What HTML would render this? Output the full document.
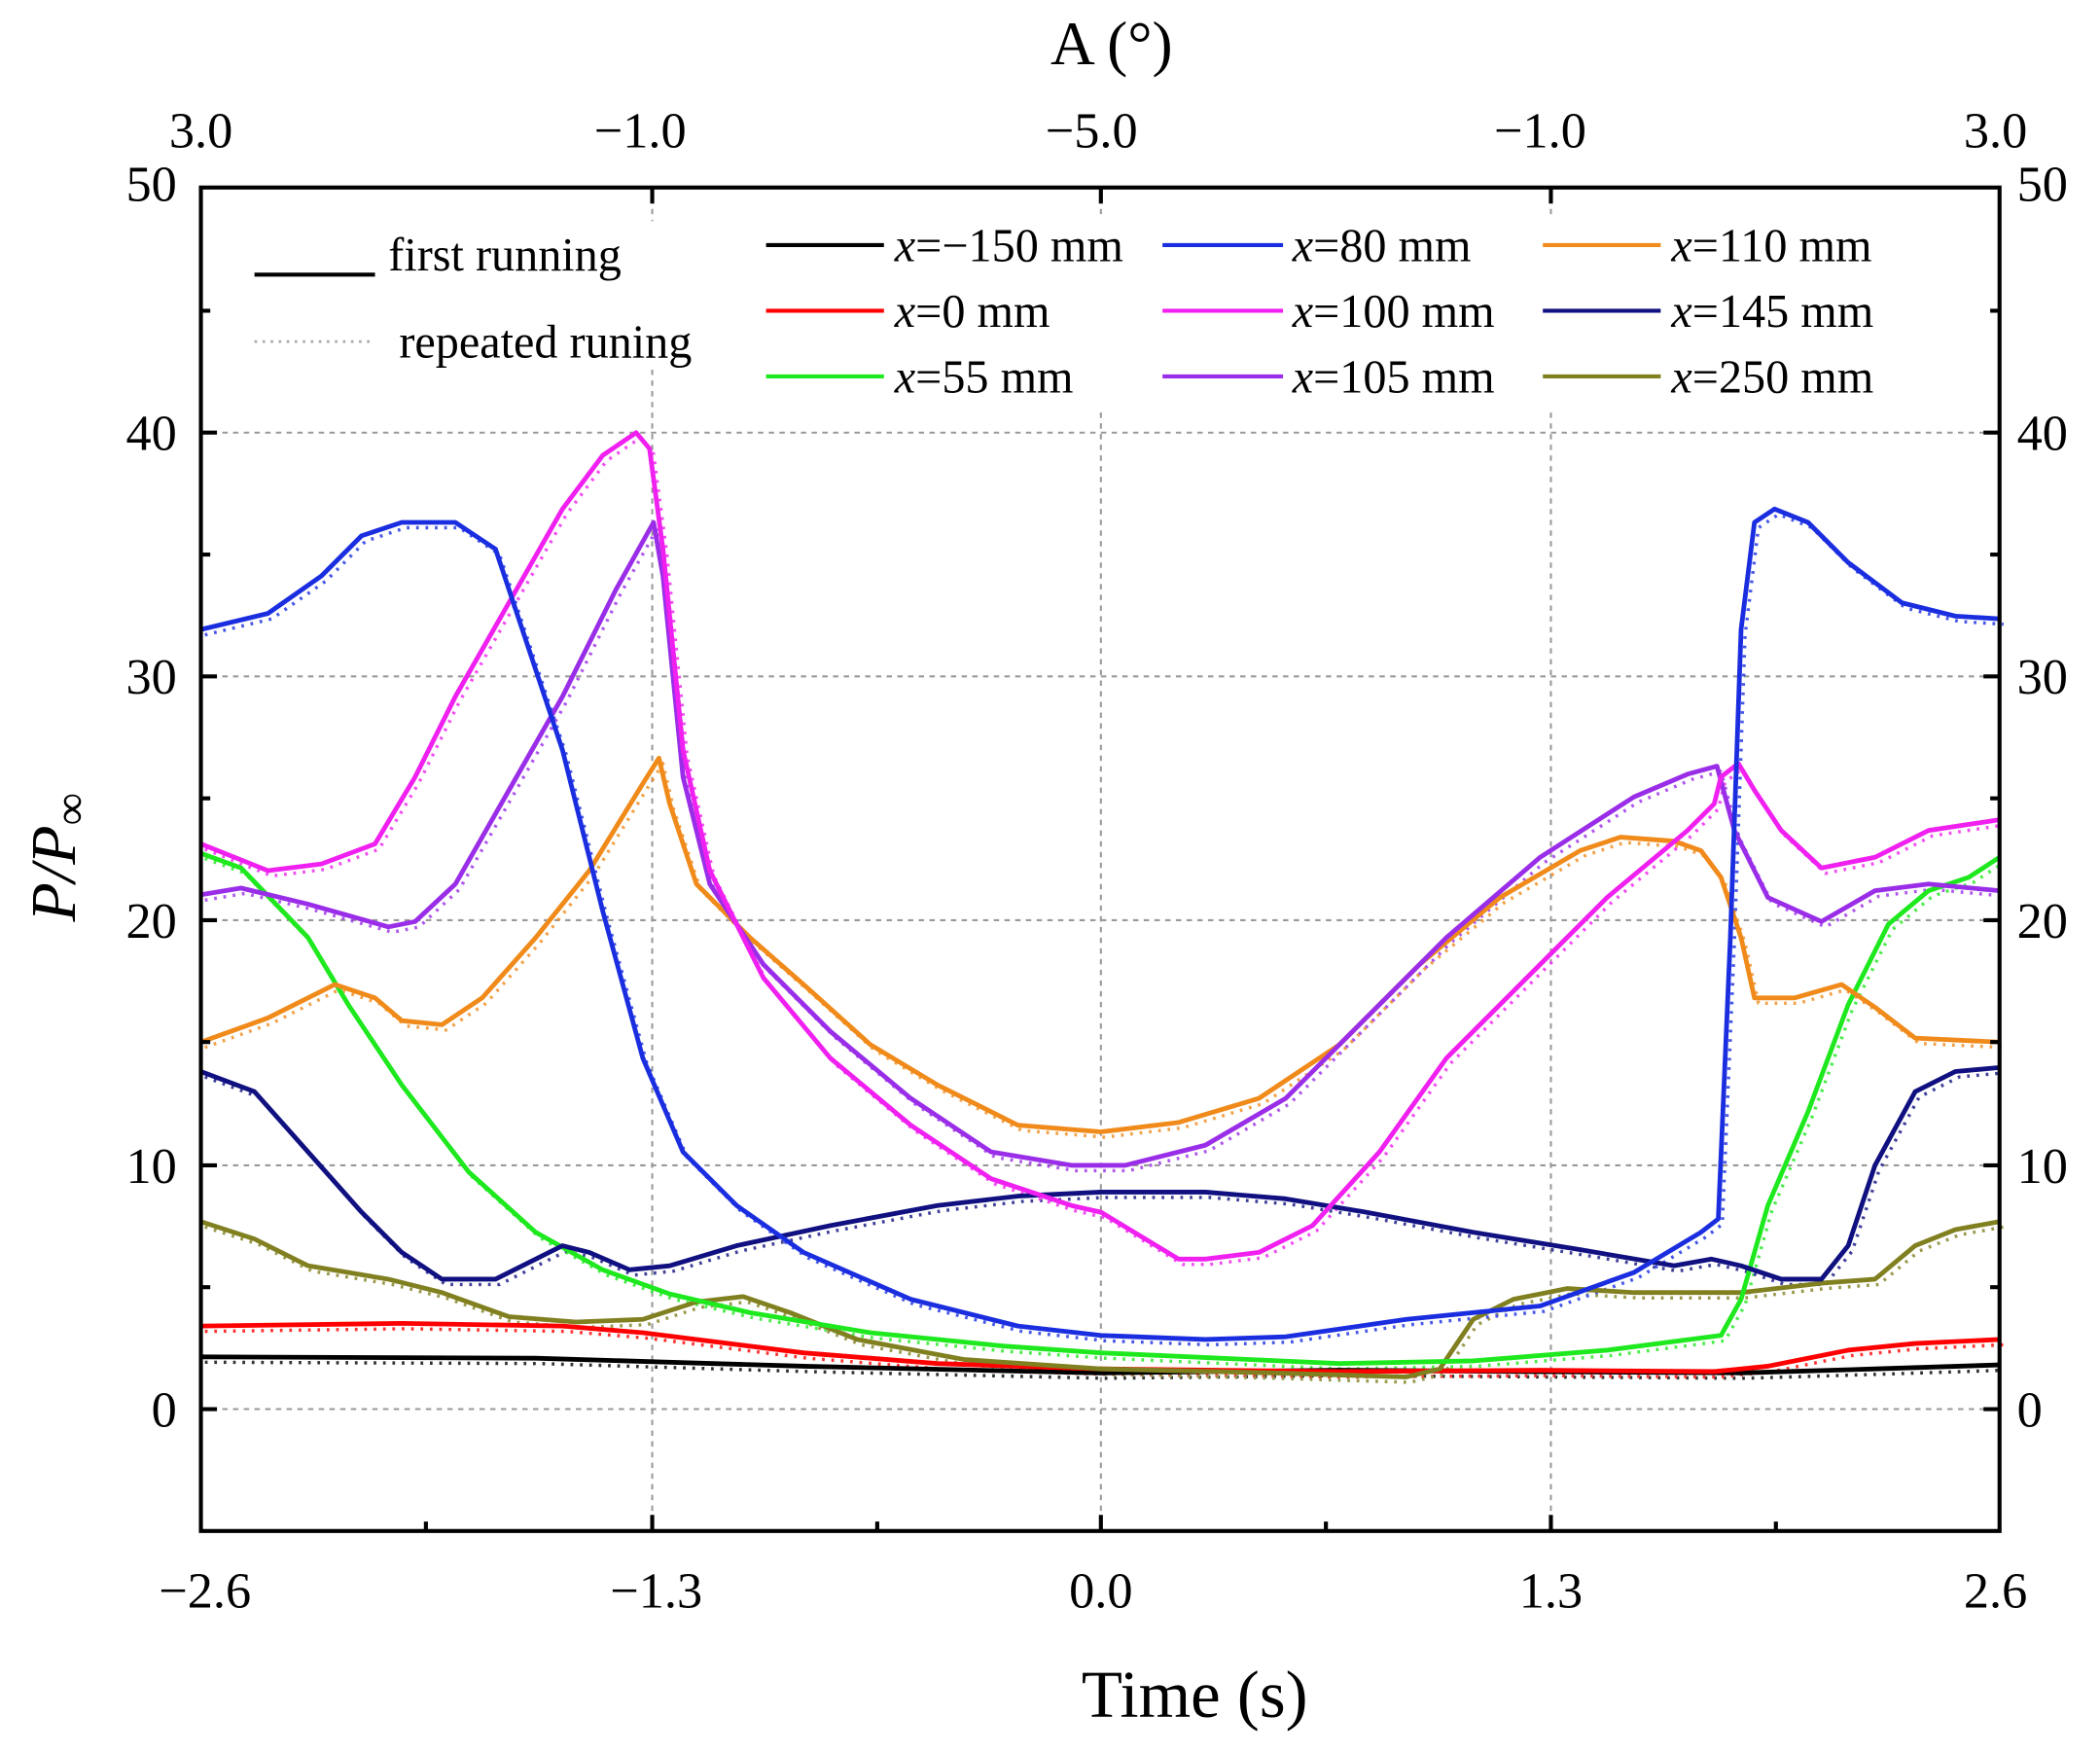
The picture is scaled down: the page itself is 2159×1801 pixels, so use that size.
<!DOCTYPE html>
<html><head><meta charset="utf-8"><style>
html,body{margin:0;padding:0;background:#fff}
svg{display:block}
text{font-family:"Liberation Serif",serif;fill:#000}
</style></head><body>
<svg width="2159" height="1801" viewBox="0 0 1568 1308" preserveAspectRatio="none" xmlns="http://www.w3.org/2000/svg">
<defs>
<g id="series" fill="none" stroke-linejoin="round">
<polyline stroke="#000" points="150,1013 400,1014 600,1020 822,1025 1000,1023 1300,1025 1400,1022 1493,1019"/>
<polyline stroke="#f00" points="150,990 300,988 420,990 480,995 600,1010 700,1018 822,1022 1000,1024 1150,1023 1280,1024 1320,1020 1380,1008 1430,1003 1493,1000"/>
<polyline stroke="#808020" points="150,912 190,925 230,945 290,955 330,965 380,983 430,987 480,985 520,972 555,968 590,980 640,1000 720,1015 822,1022 950,1025 1050,1028 1075,1022 1100,985 1130,970 1170,962 1220,965 1300,965 1360,958 1400,955 1430,930 1460,918 1493,912"/>
<polyline stroke="#1ee81e" points="150,637 180,648 230,700 260,750 300,810 350,875 400,920 450,948 500,966 560,980 650,995 750,1005 822,1010 1000,1018 1100,1016 1200,1008 1285,997 1300,970 1320,900 1350,830 1380,750 1410,690 1440,665 1470,655 1493,640"/>
<polyline stroke="#101080" points="150,800 190,815 230,860 270,905 300,935 330,955 370,955 400,940 420,930 440,935 470,948 500,945 550,930 620,915 700,900 760,893 822,890 900,890 960,895 1020,905 1100,920 1180,933 1250,945 1278,940 1300,945 1330,955 1360,955 1380,930 1400,870 1430,815 1460,800 1493,797"/>
<polyline stroke="#f08a1a" points="150,778 200,760 250,735 280,745 300,762 330,765 360,745 400,700 440,650 480,585 492,566 500,600 520,660 560,700 600,735 650,780 700,810 760,840 822,845 880,838 940,820 1000,780 1060,720 1120,670 1180,635 1210,625 1250,628 1270,635 1285,655 1300,700 1310,745 1340,745 1375,735 1400,752 1430,775 1493,778"/>
<polyline stroke="#9a2ee8" points="150,668 180,663 230,675 290,692 310,688 340,660 380,590 420,520 460,440 488,390 495,430 510,580 530,660 570,720 620,770 680,820 740,860 800,870 840,870 900,855 960,820 1020,760 1080,700 1150,640 1220,595 1260,578 1282,572 1295,620 1320,670 1360,688 1400,665 1440,660 1493,665"/>
<polyline stroke="#f020f0" points="150,630 200,650 240,645 280,630 310,580 340,520 380,450 420,380 450,340 475,323 485,335 495,410 510,560 530,650 570,730 620,790 680,840 740,880 800,900 822,905 880,940 900,940 940,935 980,915 1030,860 1080,790 1150,720 1200,670 1260,620 1280,600 1285,580 1298,570 1310,590 1330,620 1360,648 1400,640 1440,620 1493,612"/>
<polyline stroke="#1a2ee0" points="150,470 200,458 240,430 270,400 300,390 340,390 370,410 390,470 420,560 450,680 480,790 510,860 550,900 600,935 680,970 760,990 822,997 900,1000 960,998 1050,985 1150,975 1220,950 1270,920 1283,910 1292,700 1300,470 1310,390 1325,380 1350,390 1380,420 1420,450 1460,460 1493,462"/>
</g>
</defs>
<rect width="1568" height="1308" fill="#fff"/>
<g stroke="#999" stroke-width="1.5" stroke-dasharray="4,4" fill="none">
<line x1="150" y1="323" x2="1493" y2="323"/>
<line x1="150" y1="505" x2="1493" y2="505"/>
<line x1="150" y1="687" x2="1493" y2="687"/>
<line x1="150" y1="870" x2="1493" y2="870"/>
<line x1="150" y1="1052" x2="1493" y2="1052"/>
<line x1="487" y1="140" x2="487" y2="1143"/>
<line x1="822" y1="140" x2="822" y2="1143"/>
<line x1="1158" y1="140" x2="1158" y2="1143"/>
</g>
<rect x="560" y="160" width="870" height="145" fill="#fff"/>
<rect x="180" y="165" width="370" height="110" fill="#fff"/>
<use href="#series" transform="translate(3,4)" stroke-width="2.5" stroke-dasharray="2,5" opacity="0.8"/>
<use href="#series" stroke-width="3.5"/>
<g fill="none" stroke="#000" stroke-width="3">
<rect x="150" y="140" width="1343" height="1003"/>
<path d="M150,323h12M150,505h12M150,687h12M150,870h12M150,1052h12M150,232h7M150,414h7M150,596h7M150,778h7M150,961h7M1493,323h-12M1493,505h-12M1493,687h-12M1493,870h-12M1493,1052h-12M1493,232h-7M1493,414h-7M1493,596h-7M1493,778h-7M1493,961h-7M487,1143v-12M822,1143v-12M1158,1143v-12M318,1143v-7M655,1143v-7M990,1143v-7M1326,1143v-7M487,140v12M822,140v12M1158,140v12"/>
</g>
<g font-size="38" text-anchor="end">
<text x="132" y="150">50</text><text x="132" y="336">40</text><text x="132" y="518">30</text><text x="132" y="700">20</text><text x="132" y="883">10</text><text x="132" y="1065">0</text>
</g>
<g font-size="38" text-anchor="start">
<text x="1506" y="150">50</text><text x="1506" y="336">40</text><text x="1506" y="518">30</text><text x="1506" y="700">20</text><text x="1506" y="883">10</text><text x="1506" y="1065">0</text>
</g>
<g font-size="38" text-anchor="middle">
<text x="153" y="1200">−2.6</text><text x="490" y="1200">−1.3</text><text x="822" y="1200">0.0</text><text x="1158" y="1200">1.3</text><text x="1490" y="1200">2.6</text>
<text x="150" y="110">3.0</text><text x="478" y="110">−1.0</text><text x="815" y="110">−5.0</text><text x="1150" y="110">−1.0</text><text x="1490" y="110">3.0</text>
<text x="830" y="48" font-size="46">A (°)</text>
<text x="892" y="1282" font-size="50">Time (s)</text>
</g>
<text transform="translate(56,640) rotate(-90)" font-size="48" text-anchor="middle" font-style="italic">P/P<tspan font-style="normal" font-size="34" dy="8">∞</tspan></text>
<line x1="190" y1="205" x2="280" y2="205" stroke="#000" stroke-width="3"/>
<text x="290" y="202" font-size="35">first running</text>
<line x1="190" y1="255" x2="280" y2="255" stroke="#aaa" stroke-width="2" stroke-dasharray="2,4"/>
<text x="298" y="267" font-size="35">repeated  runing</text>
<g stroke-width="3">
<line x1="572" y1="183" x2="660" y2="183" stroke="#000"/>
<line x1="572" y1="232" x2="660" y2="232" stroke="#f00"/>
<line x1="572" y1="281" x2="660" y2="281" stroke="#1ee81e"/>
<line x1="868" y1="183" x2="958" y2="183" stroke="#1a2ee0"/>
<line x1="868" y1="232" x2="958" y2="232" stroke="#f020f0"/>
<line x1="868" y1="281" x2="958" y2="281" stroke="#9a2ee8"/>
<line x1="1152" y1="183" x2="1240" y2="183" stroke="#f08a1a"/>
<line x1="1152" y1="232" x2="1240" y2="232" stroke="#101080"/>
<line x1="1152" y1="281" x2="1240" y2="281" stroke="#808020"/>
</g>
<g font-size="35">
<text x="668" y="195"><tspan font-style="italic">x</tspan>=−150 mm</text>
<text x="668" y="244"><tspan font-style="italic">x</tspan>=0 mm</text>
<text x="668" y="293"><tspan font-style="italic">x</tspan>=55 mm</text>
<text x="965" y="195"><tspan font-style="italic">x</tspan>=80 mm</text>
<text x="965" y="244"><tspan font-style="italic">x</tspan>=100 mm</text>
<text x="965" y="293"><tspan font-style="italic">x</tspan>=105 mm</text>
<text x="1248" y="195"><tspan font-style="italic">x</tspan>=110 mm</text>
<text x="1248" y="244"><tspan font-style="italic">x</tspan>=145 mm</text>
<text x="1248" y="293"><tspan font-style="italic">x</tspan>=250 mm</text>
</g>
</svg>
</body></html>
